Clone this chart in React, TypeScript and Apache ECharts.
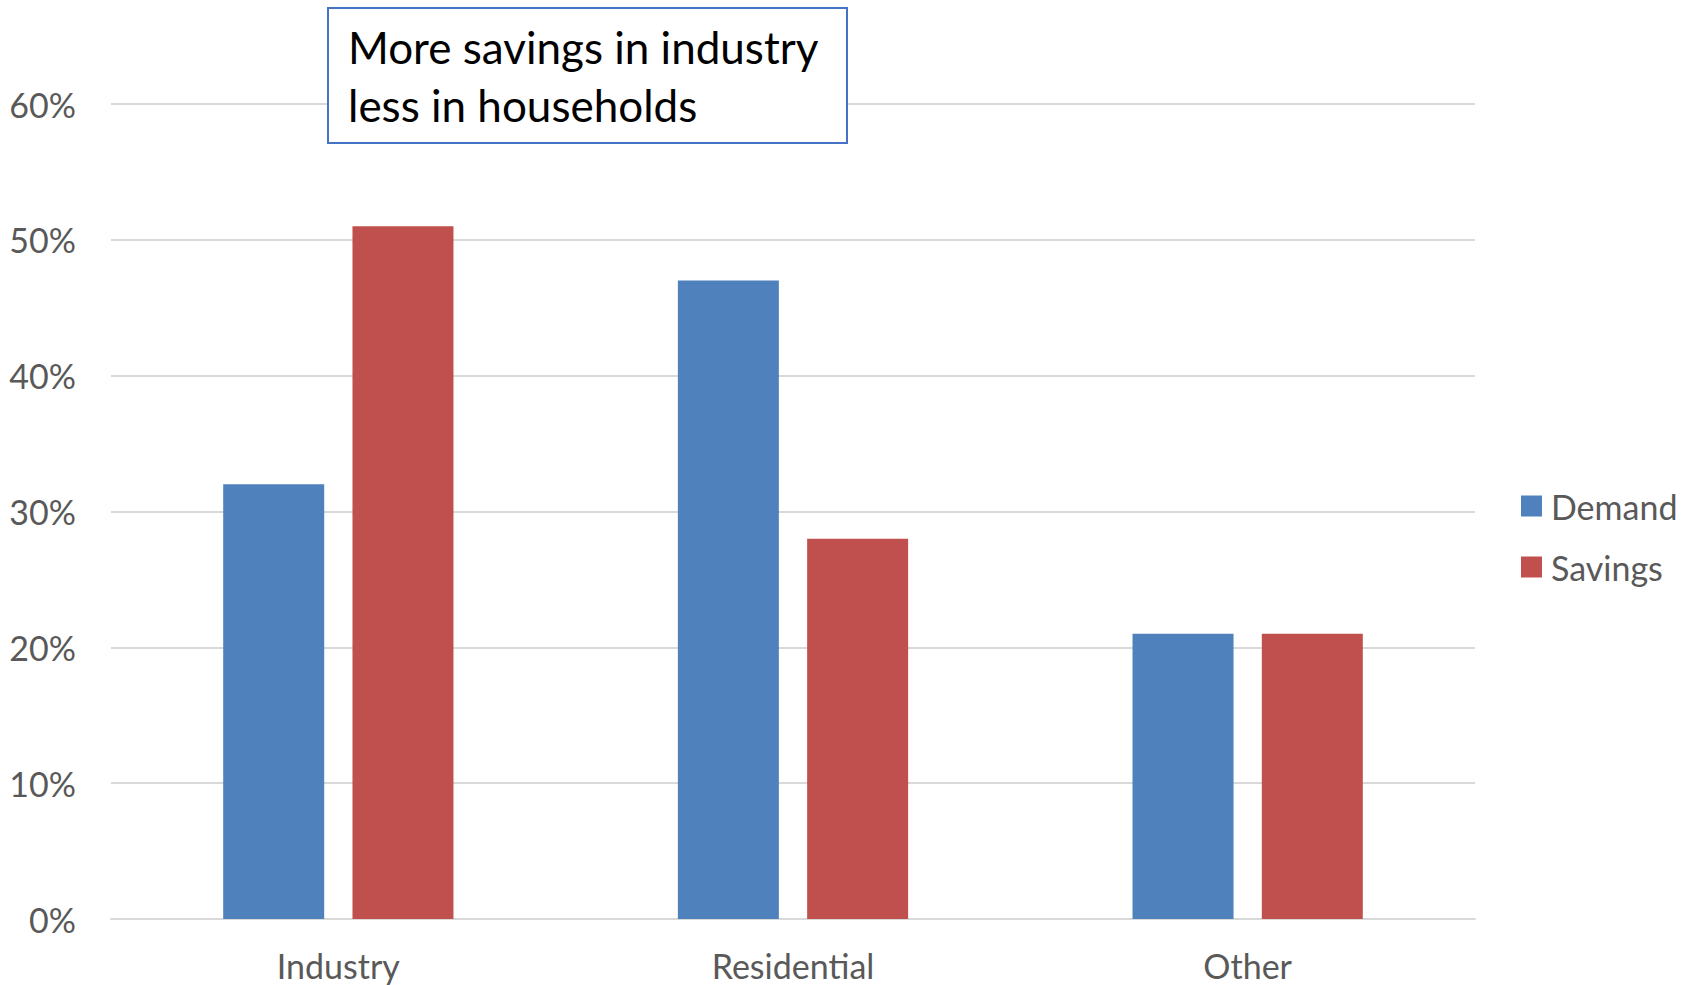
import React, { useEffect, useRef } from "react";
import * as echarts from "echarts";

const categories = ["Industry", "Residential", "Other"];
const demand = [32, 47, 21];
const savings = [51, 28, 21];
const yTicks = { min: 0, max: 60, interval: 10 };
const noteLines = ["More savings in industry", "less in households"];

const FONT = "Lato, 'Open Sans', sans-serif";

export default function App() {
  const ref = useRef<HTMLDivElement>(null);
  useEffect(() => {
    document.body.style.margin = "0";
    const chart = echarts.init(ref.current!, null, { renderer: "svg" });
    chart.setOption({
      animation: false,
      backgroundColor: "#ffffff",
      textStyle: { fontFamily: FONT },
      grid: { left: 111, right: 219, top: 104, bottom: 66 },
      legend: {
        orient: "vertical",
        left: 1516,
        top: 481,
        itemWidth: 21,
        itemHeight: 21,
        itemGap: 21,
        icon: "rect",
        textStyle: { fontSize: 34, color: "#595959", fontFamily: FONT, lineHeight: 40, padding: [0, 0, 0, 4] },
        data: ["Demand", "Savings"],
      },
      xAxis: {
        type: "category",
        data: categories,
        axisLine: { lineStyle: { color: "#D9D9D9", width: 2 } },
        axisTick: { show: false },
        axisLabel: { fontSize: 34, color: "#595959", margin: 29, fontFamily: FONT },
      },
      yAxis: {
        type: "value",
        min: yTicks.min,
        max: yTicks.max,
        interval: yTicks.interval,
        axisLine: { show: false },
        axisTick: { show: false },
        splitLine: { lineStyle: { color: "#D9D9D9", width: 2 } },
        axisLabel: { fontSize: 34, color: "#595959", margin: 35, formatter: "{value}%", fontFamily: FONT },
      },
      series: [
        {
          name: "Demand",
          type: "bar",
          data: demand,
          barWidth: 101,
          barGap: "28%",
          itemStyle: { color: "#4F81BD" },
        },
        {
          name: "Savings",
          type: "bar",
          data: savings,
          barWidth: 101,
          barGap: "28%",
          itemStyle: { color: "#C0504D" },
        },
      ],
      graphic: [
        {
          type: "rect",
          shape: { x: 328, y: 8, width: 519, height: 135 },
          style: { fill: "#ffffff", stroke: "#4472C4", lineWidth: 2 },
          z: 100,
        },
        {
          type: "text",
          x: 348,
          y: 47,
          style: {
            text: noteLines[0],
            fontSize: 44,
            fontFamily: FONT,
            fill: "#000000",
            verticalAlign: "middle",
          },
          z: 101,
        },
        {
          type: "text",
          x: 348,
          y: 105,
          style: {
            text: noteLines[1],
            fontSize: 44,
            fontFamily: FONT,
            fill: "#000000",
            verticalAlign: "middle",
          },
          z: 101,
        },
      ],
    });
    return () => chart.dispose();
  }, []);
  return <div ref={ref} style={{ width: 1694, height: 985 }} />;
}
